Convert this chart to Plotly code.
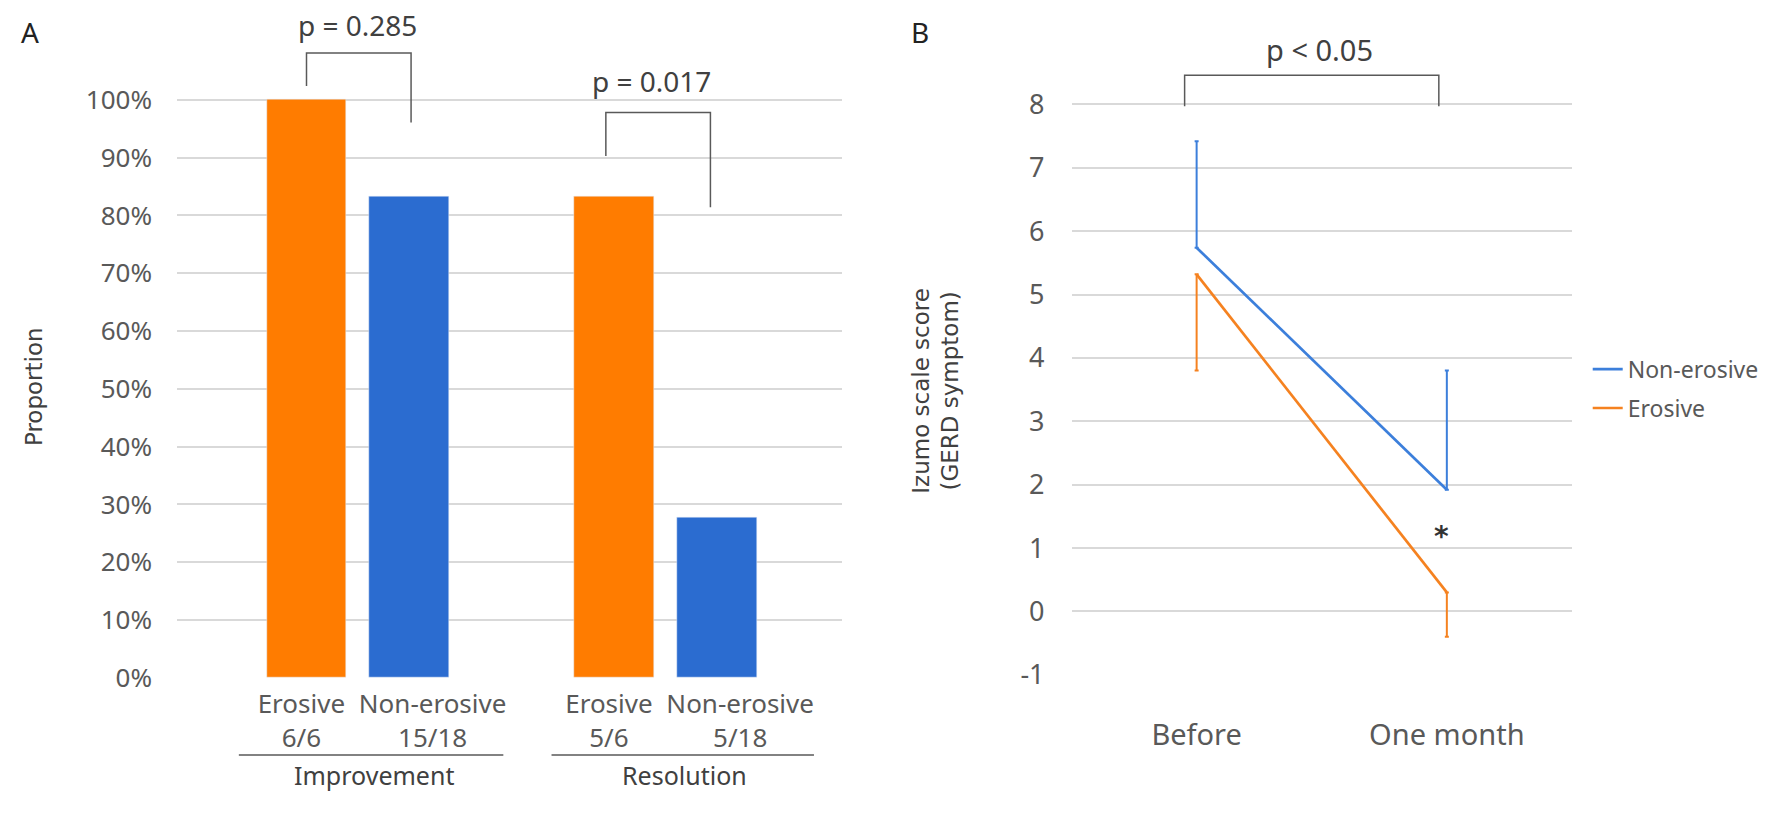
import plotly.graph_objects as go

# Panel A: responders / patients
groups = ["Improvement", "Resolution"]
erosive_n = [6, 5]
erosive_total = [6, 6]
nonerosive_n = [15, 5]
nonerosive_total = [18, 18]
pvals_a = ["p = 0.285", "p = 0.017"]

# Panel B: Izumo scale score, mean and SD
timepoints = ["Before", "One month"]
nonerosive_mean = [5.74, 1.92]
nonerosive_sd = [1.68, 1.88]
erosive_mean = [5.32, 0.30]
erosive_sd = [1.52, 0.70]
pval_b = "p < 0.05"

ORANGE = "#FF7C00"
BLUE = "#2B6CD0"
LINE_BLUE = "#3C7FDB"
LINE_ORANGE = "#F58220"
GRID = "#D9D9D9"
TICK = "#595959"
TXT = "#404040"
FONT = "Noto Sans"

erosive_pct = [n / t * 100 for n, t in zip(erosive_n, erosive_total)]
nonerosive_pct = [n / t * 100 for n, t in zip(nonerosive_n, nonerosive_total)]
x_ero = [3 * i for i in range(len(groups))]
x_non = [3 * i + 1 for i in range(len(groups))]

# category labels sit a little off the bar centres, like the Excel original
tickvals_a, ticktext_a = [], []
for i in range(len(groups)):
    tickvals_a += [x_ero[i] - 0.05, x_non[i] + 0.23]
    ticktext_a += [f"Erosive<br>{erosive_n[i]}/{erosive_total[i]}",
                   f"Non-erosive<br>{nonerosive_n[i]}/{nonerosive_total[i]}"]

yvals_a = list(range(0, 101, 10))
yvals_b = list(range(-1, 9))

fig = go.Figure()

fig.add_trace(go.Bar(x=x_ero, y=erosive_pct, marker_color=ORANGE, width=0.78,
                     showlegend=False, xaxis="x", yaxis="y"))
fig.add_trace(go.Bar(x=x_non, y=nonerosive_pct, marker_color=BLUE, width=0.78,
                     showlegend=False, xaxis="x", yaxis="y"))

xb = list(range(len(timepoints)))
fig.add_trace(go.Scatter(
    x=xb, y=nonerosive_mean, mode="lines", name="Non-erosive",
    line=dict(color=LINE_BLUE, width=2.7), legendgroup="a",
    error_y=dict(type="data", symmetric=False, array=nonerosive_sd,
                 arrayminus=[0] * len(xb), color=LINE_BLUE, thickness=2, width=2),
    xaxis="x2", yaxis="y2"))
fig.add_trace(go.Scatter(
    x=xb, y=erosive_mean, mode="lines", name="Erosive",
    line=dict(color=LINE_ORANGE, width=2.7), legendgroup="b",
    error_y=dict(type="data", symmetric=False, array=[0] * len(xb),
                 arrayminus=erosive_sd, color=LINE_ORANGE, thickness=2, width=2),
    xaxis="x2", yaxis="y2"))

fig.update_layout(
    width=1772, height=825,
    margin=dict(l=0, r=0, t=0, b=0),
    paper_bgcolor="white", plot_bgcolor="white",
    font=dict(family=FONT, color=TXT),
    bargap=0,
    xaxis=dict(domain=[0.0999, 0.4752], range=[-1.263, 5.224],
               tickvals=tickvals_a, ticktext=ticktext_a, tickangle=0,
               tickfont=dict(family=FONT, size=26, color=TICK),
               showgrid=False, zeroline=False, showline=False, ticks="",
               ticklabelstandoff=8),
    yaxis=dict(domain=[0.1612, 0.9908], range=[0, 116],
               tickvals=yvals_a, ticktext=[f"{v}%" for v in yvals_a],
               tickfont=dict(family=FONT, size=26, color=TICK),
               showgrid=True, gridcolor=GRID, gridwidth=2,
               zeroline=False, showline=False, ticks="", ticklabelstandoff=24),
    xaxis2=dict(domain=[0.6047, 0.8871], range=[-0.5, 1.5], anchor="y2",
                tickvals=xb, ticktext=timepoints, tickangle=0,
                tickfont=dict(family=FONT, size=29, color=TICK),
                showgrid=False, zeroline=False, showline=False, ticks="",
                ticklabelstandoff=40),
    yaxis2=dict(domain=[0.1648, 0.9884], range=[-1, 9.5], anchor="x2",
                tickvals=yvals_b, ticktext=[str(v) for v in yvals_b],
                tickfont=dict(family=FONT, size=27, color=TICK),
                showgrid=True, gridcolor=GRID, gridwidth=2,
                zeroline=False, showline=False, ticks="", ticklabelstandoff=26),
    legend=dict(x=0.896, y=0.519, xanchor="left", yanchor="middle",
                font=dict(family=FONT, size=23, color=TICK),
                bgcolor="rgba(0,0,0,0)", traceorder="grouped", tracegroupgap=6),
)

bracket = dict(color="#595959", width=1.5)
shapes = [
    # p-value brackets, panel A
    dict(type="path", xref="x", yref="y", line=bracket,
         path="M 0,102.4 L 0,108.1 L 1.02,108.1 L 1.02,96.1"),
    dict(type="path", xref="x", yref="y", line=bracket,
         path="M 2.92,90.3 L 2.92,97.8 L 3.94,97.8 L 3.94,81.4"),
    # group underlines
    dict(type="line", xref="x", yref="paper", x0=-0.66, x1=1.92, y0=0.0655, y1=0.0655,
         line=dict(color="#595959", width=1.5)),
    dict(type="line", xref="x", yref="paper", x0=2.39, x1=4.95, y0=0.0655, y1=0.0655,
         line=dict(color="#595959", width=1.5)),
    # bracket panel B
    dict(type="path", xref="x2", yref="y2", line=bracket,
         path="M -0.048,7.97 L -0.048,8.46 L 0.968,8.46 L 0.968,7.97"),
]
fig.update_layout(shapes=shapes)

mid = dict(xanchor="center", yanchor="middle", showarrow=False)
ann = [
    dict(text="A", x=0.0169, y=0.96, xref="paper", yref="paper",
         font=dict(size=28, color="#222222"), **mid),
    dict(text="B", x=0.5192, y=0.96, xref="paper", yref="paper",
         font=dict(size=28, color="#222222"), **mid),
    dict(text=pvals_a[0], x=0.50, y=112.9, xref="x", yref="y",
         font=dict(size=28, color=TXT), **mid),
    dict(text=pvals_a[1], x=3.37, y=103.2, xref="x", yref="y",
         font=dict(size=28, color=TXT), **mid),
    dict(text=groups[0], x=0.66, y=0.0412, xref="x", yref="paper",
         font=dict(size=25, color=TXT), **mid),
    dict(text=groups[1], x=3.69, y=0.0412, xref="x", yref="paper",
         font=dict(size=25, color=TXT), **mid),
    dict(text="Proportion", x=0.0192, y=0.521, xref="paper", yref="paper",
         textangle=-90, font=dict(family="DejaVu Sans", size=23, color=TXT), **mid),
    dict(text="Izumo scale score<br>(GERD symptom)", x=0.528, y=0.516,
         xref="paper", yref="paper", textangle=-90,
         font=dict(family="DejaVu Sans", size=23, color=TXT), **mid),
    dict(text=pval_b, x=0.49, y=8.86, xref="x2", yref="y2",
         font=dict(size=29, color=TXT), **mid),
    dict(text="<b>*</b>", x=0.98, y=1.18, xref="x2", yref="y2",
         font=dict(family="DejaVu Sans", size=28, color="#333333"), **mid),
]
fig.update_layout(annotations=ann)

fig.write_html("out.html", config={"displayModeBar": False},
               post_script="document.body.style.margin = '0';")
